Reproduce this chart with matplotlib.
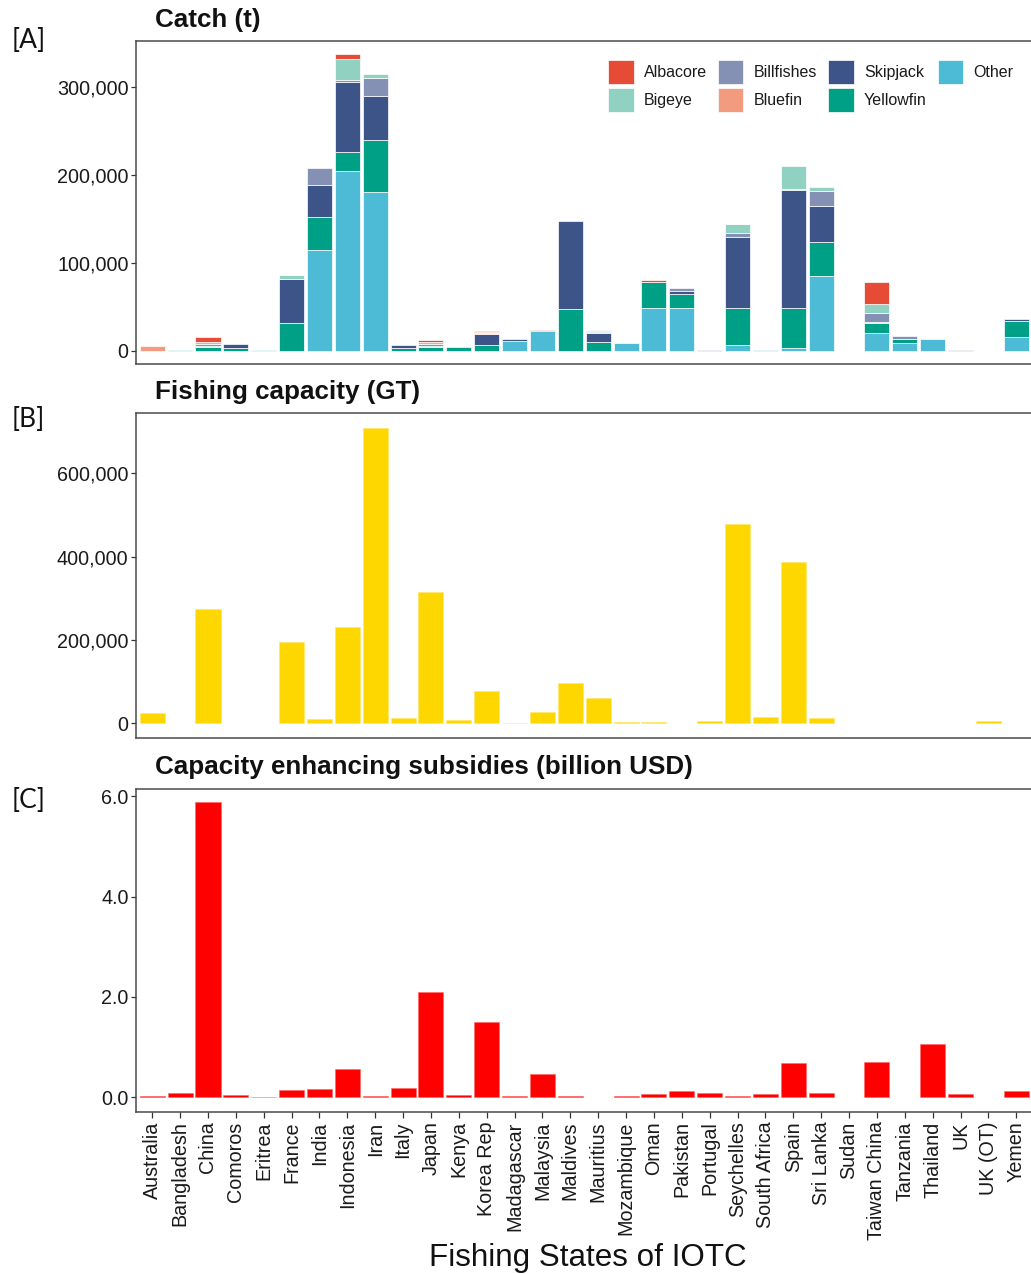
import matplotlib
matplotlib.use("Agg")
import matplotlib.pyplot as plt
import numpy as np
from matplotlib.ticker import FuncFormatter

countries = ["Australia", "Bangladesh", "China", "Comoros", "Eritrea", "France", "India",
             "Indonesia", "Iran", "Italy", "Japan", "Kenya", "Korea Rep", "Madagascar",
             "Malaysia", "Maldives", "Mauritius", "Mozambique", "Oman", "Pakistan",
             "Portugal", "Seychelles", "South Africa", "Spain", "Sri Lanka", "Sudan",
             "Taiwan China", "Tanzania", "Thailand", "UK", "UK (OT)", "Yemen"]

other = [0, 900, 0, 0, 700, 0, 115000, 204500, 180700, 0, 0, 0, 0, 11400, 22700, 0,
         0, 8700, 49000, 49000, 0, 6400, 1000, 3000, 85200, 0, 20800, 9500, 13300, 0, 0, 15500]
yellowfin = [0, 0, 4500, 3400, 0, 31400, 37500, 22000, 59000, 3000, 4500, 4900, 6800, 0, 0, 47300,
             10600, 0, 29500, 16000, 0, 42000, 0, 45500, 39000, 0, 10600, 4200, 0, 0, 0, 18600]
skipjack = [0, 0, 0, 4500, 0, 50000, 36400, 78800, 50000, 4200, 0, 0, 12500, 1900, 0, 100400,
            9500, 0, 0, 2700, 0, 81400, 0, 134500, 40500, 0, 0, 0, 0, 0, 0, 2300]
bluefin = [5300, 0, 1000, 0, 0, 800, 0, 800, 0, 0, 1500, 0, 800, 0, 0, 0,
           1000, 0, 0, 0, 0, 0, 0, 0, 0, 0, 1500, 0, 0, 0, 0, 0]
billfishes = [0, 0, 2300, 0, 0, 0, 19300, 2000, 20000, 0, 2000, 0, 0, 0, 0, 0,
              1900, 0, 0, 3800, 1500, 3800, 0, 1000, 17400, 0, 9800, 3400, 0, 800, 0, 0]
bigeye = [0, 0, 2500, 0, 0, 4000, 0, 23500, 4500, 0, 2500, 0, 1200, 0, 0, 0,
          1000, 0, 0, 0, 0, 10200, 0, 25800, 3800, 0, 10600, 0, 0, 0, 0, 0]
albacore = [0, 0, 5500, 0, 0, 700, 0, 5700, 0, 0, 2000, 0, 1200, 0, 1500, 0,
            0, 0, 2000, 0, 0, 1000, 0, 0, 0, 0, 25400, 0, 0, 0, 0, 0]

capacity = [24000, 0, 275000, 0, 0, 196000, 9600, 231000, 708000, 12800, 315000, 8000, 76800,
            1500, 26400, 96000, 60000, 3200, 2400, 0, 6400, 479000, 15000, 386000, 12800, 0,
            0, 0, 0, 0, 5600, 0]
subsidies = [0.027, 0.08, 5.89, 0.047, 0.01, 0.147, 0.167, 0.56, 0.027, 0.18, 2.107, 0.047,
             1.493, 0.027, 0.46, 0.027, 0, 0.02, 0.073, 0.133, 0.093, 0.027, 0.067, 0.68,
             0.093, 0, 0.70, 0, 1.06, 0.073, 0, 0.133]

# stacking order bottom -> top
species = ["Other", "Yellowfin", "Skipjack", "Bluefin", "Billfishes", "Bigeye", "Albacore"]
species_vals = [other, yellowfin, skipjack, bluefin, billfishes, bigeye, albacore]
species_colors = {"Albacore": "#E64B35", "Bigeye": "#91D1C2", "Billfishes": "#8491B4",
                  "Bluefin": "#F39B7F", "Skipjack": "#3C5488", "Yellowfin": "#00A087",
                  "Other": "#4DBBD5"}
legend_order = ["Albacore", "Bigeye", "Billfishes", "Bluefin", "Skipjack", "Yellowfin", "Other"]

W, H = 1031, 1274
fig = plt.figure(figsize=(W / 100, H / 100), dpi=100)
plt.rcParams['font.family'] = ['Liberation Sans', 'DejaVu Sans']


def ax_at(left, top, right, bottom):
    return fig.add_axes([left / W, 1 - bottom / H, (right - left) / W, (bottom - top) / H])


x = np.arange(len(countries))
spine_col = "#4a4a4a"
tick_fs = 14.2


def style(ax, show_x=False):
    for s in ax.spines.values():
        s.set_color(spine_col)
        s.set_linewidth(1.1)
    ax.set_xlim(-0.6, len(countries) - 0.4)
    ax.tick_params(axis='y', length=3.5, width=0.9, color="#333333", labelsize=tick_fs,
                   labelcolor="#1a1a1a", pad=1.5)
    ax.set_xticks(x)
    if show_x:
        ax.set_xticklabels(countries, rotation=90, fontsize=tick_fs, color="#1a1a1a")
        ax.tick_params(axis='x', length=4, width=0.9, color="#333333", pad=3)
    else:
        ax.tick_params(axis='x', length=0, labelbottom=False)


comma = FuncFormatter(lambda v, p: f"{int(round(v)):,}")

# Panel A
axA = ax_at(135.5, 40.7, 1033, 364)
bottom = np.zeros(len(countries))
handles = {}
for name, vals in zip(species, species_vals):
    v = np.array(vals, dtype=float)
    nz = v > 0
    b = axA.bar(x[nz], v[nz], width=0.9, bottom=bottom[nz], color=species_colors[name],
                edgecolor="white", linewidth=0.5, label=name)
    handles[name] = b
    bottom += v
axA.set_ylim(-14800, 352600)
axA.set_yticks([0, 100000, 200000, 300000])
axA.yaxis.set_major_formatter(comma)
style(axA)
leg = axA.legend([handles[n] for n in legend_order], legend_order, ncol=4,
                 loc="upper left", bbox_to_anchor=(608 / W, 1 - 60 / H),
                 bbox_transform=fig.transFigure, frameon=False, fontsize=11.5,
                 handlelength=1.6, handleheight=1.9, handletextpad=0.65,
                 columnspacing=0.68, labelspacing=0.3, borderpad=0, borderaxespad=0)
for t in leg.get_texts():
    t.set_color("#1a1a1a")

# Panel B
cap = np.array(capacity, dtype=float)
nzb = cap > 0
axB = ax_at(135.5, 413.3, 1033, 738.3)
axB.bar(x[nzb], cap[nzb], width=0.9, color="#FFD700", edgecolor="#FFE866", linewidth=0.4)
axB.set_ylim(-36000, 744000)
axB.set_yticks([0, 200000, 400000, 600000])
axB.yaxis.set_major_formatter(comma)
style(axB)

# Panel C
sub = np.array(subsidies, dtype=float)
nzc = sub > 0
axC = ax_at(135.5, 789.3, 1033, 1111.7)
axC.bar(x[nzc], sub[nzc], width=0.9, color="#FF0000", edgecolor="#FF6666", linewidth=0.4)
axC.set_ylim(-0.287, 6.14)
axC.set_yticks([0, 2, 4, 6])
axC.yaxis.set_major_formatter(FuncFormatter(lambda v, p: f"{v:.1f}"))
style(axC, show_x=True)

# Titles
title_kw = dict(fontsize=18.7, fontweight="bold", color="#111111", ha="left", va="baseline")
fig.text(155 / W, 1 - 27 / H, "Catch (t)", **title_kw)
fig.text(155 / W, 1 - 399 / H, "Fishing capacity (GT)", **title_kw)
fig.text(155 / W, 1 - 774 / H, "Capacity enhancing subsidies (billion USD)", **title_kw)

# Panel letters
lab_kw = dict(fontsize=19, color="#111111", ha="left", va="center", family=["Lato", "DejaVu Sans"])
fig.text(12 / W, 1 - 41 / H, "[A]", **lab_kw)
fig.text(12 / W, 1 - 420 / H, "[B]", **lab_kw)
fig.text(12 / W, 1 - 801 / H, "[C]", **lab_kw)

# x axis label
fig.text(588 / W, 1 - 1258 / H, "Fishing States of IOTC", fontsize=22.6, color="#111111",
         ha="center", va="center")

fig.savefig("out.png", dpi=100)
